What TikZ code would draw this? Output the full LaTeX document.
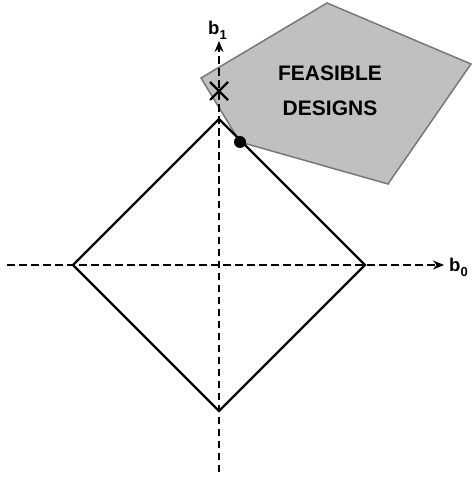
\documentclass[tikz,border=0pt]{standalone}
\usepackage{fontspec}
\setmainfont{Liberation Sans}
\usetikzlibrary{arrows.meta,calc}
\definecolor{feasfill}{RGB}{192,192,192}
\definecolor{feasedge}{RGB}{120,120,120}
\newcommand{\axlab}[2]{\textbf{#1\raisebox{-5pt}{\fontsize{13}{13}\selectfont #2}}}
\tikzset{
  axisline/.style={line width=2.2pt, dash pattern=on 7.5pt off 4.5pt, -{Stealth[length=11pt,width=9pt]}},
  region/.style={fill=feasfill, draw=feasedge, line width=1.5pt, line join=miter},
  normball/.style={line width=2.2pt, line join=miter},
  lbl/.style={font=\fontsize{18.5}{20}\selectfont, inner sep=0pt},
  regionlbl/.style={font=\bfseries\fontsize{21}{35}\selectfont, align=center, inner sep=0pt},
}
\begin{document}
\begin{tikzpicture}[x=1pt,y=-1pt]
\useasboundingbox (0,0) rectangle (471,478);
\fill[white] (0,0) rectangle (471,478);
% feasible region
\coordinate (p1) at (201,78);
\coordinate (p2) at (327,3);
\coordinate (p3) at (471,64);
\coordinate (p4) at (388,184);
\coordinate (p5) at (240,142);
\draw[region] (p1) -- (p2) -- (p3) -- (p4) -- (p5) -- cycle;
% axes
\coordinate (xl) at (7,265);
\coordinate (xr) at (444,265);
\coordinate (yb) at (219,472);
\coordinate (yt) at (219,41);
\draw[axisline] (xl) -- (xr);
\draw[axisline] (yb) -- (yt);
% diamond
\coordinate (dL) at (73,265);
\coordinate (dR) at (365,265);
\coordinate (dT) at (219,119);
\coordinate (dB) at (219,411);
\draw[normball] (dL) -- (dT) -- (dR) -- (dB) -- cycle;
% marks
\node[circle, fill=black, inner sep=0pt, minimum size=12pt] (dot) at (p5) {};
\coordinate (xc) at (219,91);
\draw[line width=2.2pt] ($(xc)+(-9,-9)$) -- ($(xc)+(9,9)$);
\draw[line width=2.2pt] ($(xc)+(-9,9)$) -- ($(xc)+(9,-9)$);
% labels
\node[lbl, anchor=base west] (b0) at (449,271) {\axlab{b}{0}};
\node[lbl, anchor=base west] (b1) at (208,35) {\axlab{b}{1}};
\node[regionlbl] (fd) at (330,91) {FEASIBLE\\DESIGNS};
\end{tikzpicture}
\end{document}
